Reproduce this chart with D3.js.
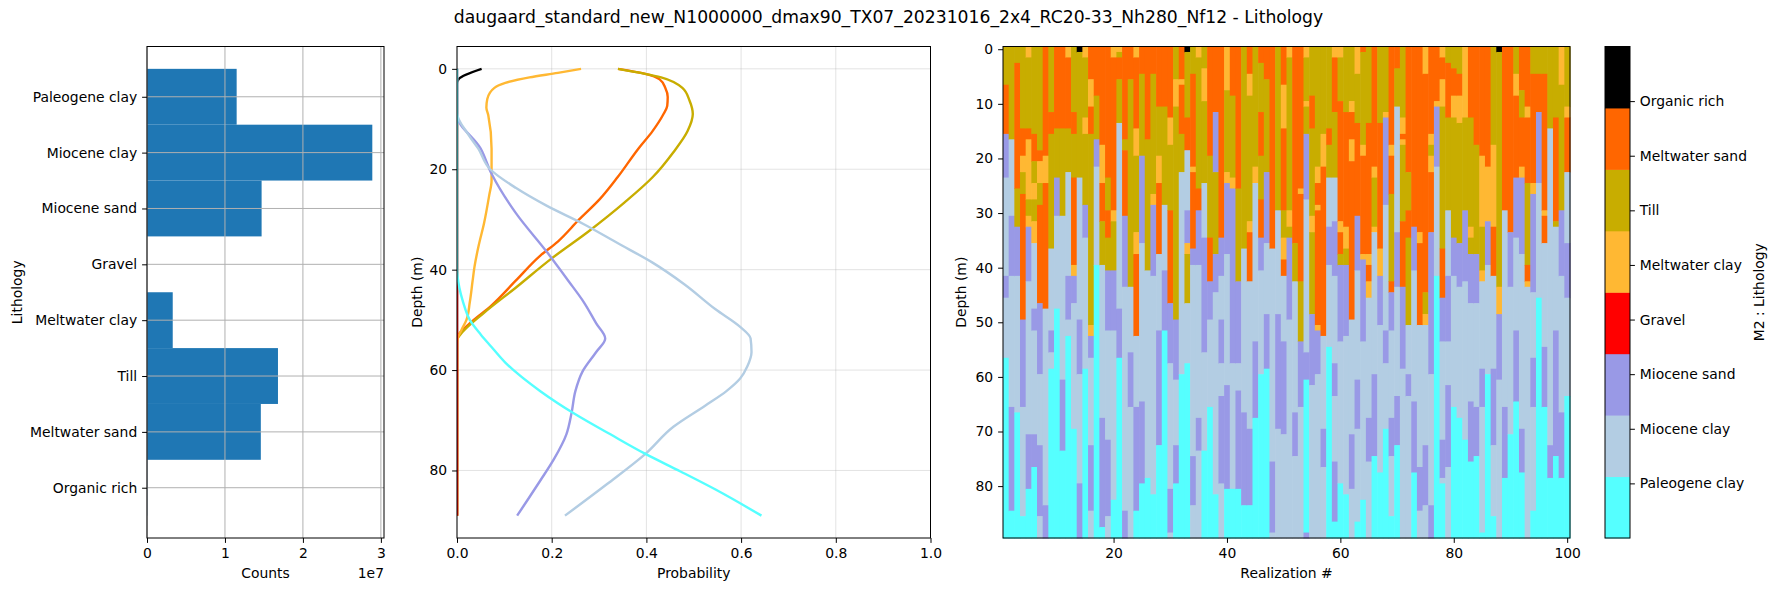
<!DOCTYPE html>
<html>
<head>
<meta charset="utf-8">
<title>Lithology</title>
<script src="https://cdn.jsdelivr.net/npm/d3@7/dist/d3.min.js"></script>
<style>
  body { margin: 0; background: #fff; }
  svg { display: block; font-family: "DejaVu Sans", sans-serif; }
</style>
</head>
<body>
<div id="chart"></div>
<script>
// lithology classes, bottom of the colorbar first
const lithologies = ['Paleogene clay', 'Miocene clay', 'Miocene sand', 'Gravel', 'Meltwater clay', 'Till', 'Meltwater sand', 'Organic rich'];
const lithoColors = ['#55ffff', '#b3cde3', '#9999e6', '#ff0000', '#ffb833', '#c8ad00', '#ff6600', '#000000'];
const lithoCodes = ['P', 'C', 'M', 'G', 'L', 'T', 'S', 'O'];

// histogram counts per class
const counts = [1.15e7, 2.89e7, 1.47e7, 0, 0.33e7, 1.68e7, 1.46e7, 3e4];
const countTicks = [0, 1e7, 2e7, 3e7];

// probability vs depth, [depth, probability]
const probPaleogeneClay = [[0, 0], [39.4, 0], [43.6, 0.005], [46.5, 0.013], [50, 0.027], [52.9, 0.05], [55.3, 0.072], [58.5, 0.102], [64.2, 0.176], [68.8, 0.25], [72.8, 0.324], [76.7, 0.398], [80.2, 0.472], [83.8, 0.546], [89, 0.643]];
const probMioceneClay = [[0, 0], [8.8, 0], [13.1, 0.024], [15.9, 0.045], [20, 0.07], [23.7, 0.124], [27.3, 0.19], [30.8, 0.265], [34.7, 0.339], [38.6, 0.413], [42.9, 0.48], [47.9, 0.546], [51.4, 0.598], [53.7, 0.62], [56.4, 0.622], [59.3, 0.613], [61.7, 0.598], [64.2, 0.569], [67.1, 0.524], [71.3, 0.457], [76.7, 0.398], [82.7, 0.317], [89, 0.228]];
const probMioceneSand = [[0, 0], [9.2, 0], [15.9, 0.05], [20.9, 0.073], [28.7, 0.124], [36.5, 0.19], [42.2, 0.235], [46.5, 0.268], [50.7, 0.294], [53.7, 0.313], [56.4, 0.294], [60.3, 0.265], [64.2, 0.25], [68.5, 0.242], [72.8, 0.231], [77.7, 0.205], [82, 0.176], [89, 0.127]];
const probGravel = [[0, 0], [89, 0]];
const probMeltwaterClay = [[0, 0.262], [0.8, 0.213], [1.7, 0.153], [2.8, 0.102], [3.8, 0.079], [6, 0.064], [7.7, 0.062], [9.2, 0.066], [15.9, 0.073], [22.3, 0.073], [25.2, 0.068], [30.8, 0.057], [35.1, 0.046], [39.4, 0.037], [42.2, 0.033], [46.5, 0.027], [50, 0.02], [52.1, 0.009], [53.7, 0.0015], [55, 0], [89, 0]];
const probTill = [[0, 0.34], [1.7, 0.431], [3.8, 0.476], [6.3, 0.491], [9, 0.498], [12.4, 0.487], [16.6, 0.457], [21.6, 0.413], [26.6, 0.354], [32.3, 0.279], [37.9, 0.198], [43.6, 0.124], [48.6, 0.057], [53.2, 0.005], [54, 0], [89, 0]];
const probMeltwaterSand = [[0, 0.34], [1, 0.398], [2.1, 0.428], [3.8, 0.44], [5.6, 0.445], [7.4, 0.444], [9.2, 0.435], [12.4, 0.413], [15.9, 0.383], [21.6, 0.339], [25.9, 0.302], [30.1, 0.257], [34.4, 0.213], [37.2, 0.176], [42.2, 0.124], [47.2, 0.072], [50.7, 0.027], [53.7, 0], [89, 0]];
const probOrganicRich = [[0, 0.052], [2, 0.004], [3, 0], [89, 0]];
const probSeries = [probPaleogeneClay, probMioceneClay, probMioceneSand, probGravel, probMeltwaterClay, probTill, probMeltwaterSand, probOrganicRich];
const probTicks = [0, 0.2, 0.4, 0.6, 0.8, 1.0];
const depthTicks = [0, 20, 40, 60, 80];

// 100 realizations, one string each: class code + depth where that class starts
const realizations = [
  'T0 S7 M16 C24 M42 C46 P57', 'T0 C17 M31 C42 M66 P85', 'T0 S3 T26 M33 C42 P67', 'T0 S15 L20 T23 S27 M50 C66 P86',
  'L0 T2 S15 L17 T28 L31 M33 C43 M71 P81', 'T0 S16 T21 L25 T28 L32 C36 M48 C52 M71 P77', 'T0 S19 L21 T25 S29 M47 C60 M73 C86', 'S0 L20 S25 C48 M84',
  'T0 S12 T16 C37 M52 C56 P59', 'S0 T15 M24 C31 P48', 'S0 T15 C31 M61 P74', 'L0 S2 T15 C23 M42 C50 P53',
  'T0 S12 T16 S24 L40 M42 C47 P70', 'O0 T1 C24 M50 C60 M80', 'L0 T2 L13 T16 M29 C35 P59', 'S0 L6 S11 T16 L51 M53 C57 M73 C85',
  'S0 T9 M17 C22 P40', 'S0 L18 S25 T32 C40 M68 P88', 'S0 T24 S30 T35 M41 C52 M72 C86', 'L0 S2 L30 T32 M41 C52 P83',
  'L0 T1 S2 T6 C14 M48 P57', 'S0 T17 S19 M31 C44 M85', 'S0 T6 C44 M56 C66', 'L0 S2 L15 T20 L34 S38 C53 M66 P85',
  'S0 T5 M20 C36 M65 P80', 'S0 T17 C41 P79', 'S0 T5 L27 M29 C42 P82', 'S0 T11 L20 S25 C38 M52 P73',
  'S0 T11 C29 M41 P52', 'S0 L13 T18 S30 M47 C58 M81 C89', 'T0 L6 T11 M50 C61 M73 P80', 'S0 L6 S7 T16 C23 P60',
  'O0 T1 S13 C19 M30 L36 T38 C47 P58', 'T0 S5 L22 S23 M37 C40 M75 C84', 'L0 T2 S26 M30 C40 M68 C74', 'T0 L4 T10 C25 M35 C56 P74',
  'S0 T20 S35 M43 C50 P66', 'S0 M12 T23 M38 C45 P82', 'S0 M35 C42 M50 C58 M64 C80', 'L0 T8 L23 M25 C38 M62 P81',
  'S0 T9 L24 M26 C58 P81', 'S0 T26 M43 C58 M63 P81', 'T0 C37 M67 P84', 'S0 L5 T9 L32 S34 C43 M70 P84',
  'T0 L22 C25 M54 P68', 'S0 T3 S12 T20 S28 M35 C41 P60', 'S0 T6 M23 C36 M49 P59', 'S0 C37 M76 C89',
  'T0 C30 M49 C70', 'S0 L7 S15 T30 L35 S39 C42 M54 C71', 'L0 T2 L30 T33 M35 C50', 'S0 T36 C43 M67 C75',
  'S0 L26 S27 T43 M54 C66', 'L0 T2 L10 T11 M16 C28 M56 P61 M89', 'T0 S9 T15 L31 T34 M49 C62', 'T0 L22 S25 L29 S30 L51 M52 C60',
  'T0 L16 S22 C53 M70 C77', 'T0 S15 T18 C24 M33 C40 P55', 'L0 S2 T12 C24 M32 C42 M58 C64 M76 P87', 'L0 T2 S10 L32 S34 T38 M40 C54 P80',
  'T0 S12 L33 T37 M40 C53 P82', 'T0 L10 S12 L17 S21 C50 M71 C81', 'L0 T5 S14 M31 C41 M61 C70 P87', 'S0 T1 L18 S20 L38 M39 C54 P83',
  'T0 S14 L38 S40 L43 C46 M68 C76', 'S0 L22 T24 L33 C34 M60 P75', 'T0 S14 L37 M42 C51 P78', 'T0 L12 M13 C29 M52 C58 P70',
  'S0 L18 S20 T27 S43 M45 C52 M68 C75 P86', 'S0 T4 C11 M34 C44 M64 P73', 'T0 L13 S16 L17 T18 S32 M44 C59', 'S0 T23 S30 T35 C51 M60 C64',
  'S0 M33 C41 M65 P78', 'S0 L34 S36 C51 M77 C85', 'L0 S5 T45 L49 C51 M73 C84', 'S0 L16 T18 L20 S23 M34 C60 M84',
  'S0 L10 M11 C22 P42', 'L0 S2 L6 T11 S37 M46 C54 M72 C79 P80', 'T0 S3 T13 C30 M42 C54 M62 C77', 'T0 S4 L9 T13 M35 C42 P66',
  'T0 S5 L9 T14 M36 C44 P68', 'L0 T13 M30 C43 P72', 'S0 T13 L33 T35 M38 C47 M65 P76', 'S0 T18 M38 C47 M66 P75',
  'S0 L20 T33 L41 C43 M59 C66 P89', 'S0 L22 M32 C40 P60', 'T0 L18 S33 C42 M59 C73 P86', 'O0 T1 L44 M49 C61',
  'S0 C30 M66 P79', 'S0 M34 C44 P71', 'T0 L5 S9 M24 C35 M52 P65', 'S0 T8 S13 L22 M24 C38 M70 P78',
  'S0 L11 S13 T25 S40 L43 C44', 'T0 S5 L25 M27 C45 M57 C66 P85', 'T0 S5 M12 C25 P46', 'T0 S5 L30 S31 C36 M55 P66',
  'T0 C15 M73 P79', 'T0 S13 T32 C33 M52 P75', 'L0 T7 M30 C42 M67 P79', 'T0 L11 S13 C23 M36 C46 P64'
];
const nDepth = 90;
const realizationTicks = [20, 40, 60, 80, 100];
const imageDepthTicks = [0, 10, 20, 30, 40, 50, 60, 70, 80];

const W = 1777, H = 593;
const plotTop = 46.5, plotBottom = 538;
const fs = 13.9;

const svg = d3.select('#chart').append('svg').attr('width', W).attr('height', H);

function styleAxis(g) {
  g.attr('font-family', null).attr('font-size', null);
  g.select('.domain').remove();
  g.selectAll('.tick text').attr('font-size', fs).attr('fill', '#000');
  g.selectAll('.tick line').attr('stroke', '#000').attr('stroke-width', 1);
}
function frame(l, r) {
  svg.append('rect').attr('x', l).attr('y', plotTop).attr('width', r - l).attr('height', plotBottom - plotTop)
    .attr('fill', 'none').attr('stroke', '#000').attr('stroke-width', 1);
}
function label(text, x, y, rotate, anchor) {
  const t = svg.append('text').attr('font-size', fs).attr('text-anchor', anchor || 'middle').text(text);
  if (rotate) t.attr('transform', `translate(${x},${y}) rotate(-90)`);
  else t.attr('x', x).attr('y', y);
  return t;
}

svg.append('text').attr('x', W / 2).attr('y', 23).attr('text-anchor', 'middle').attr('font-size', 17.2)
  .text('daugaard_standard_new_N1000000_dmax90_TX07_20231016_2x4_RC20-33_Nh280_Nf12 - Lithology');

// ---- panel 1: histogram
const p1 = { l: 147, r: 384 };
const x1 = d3.scaleLinear().domain([0, 3.04e7]).range([p1.l, p1.r]);
const y1 = d3.scaleLinear().domain([0.1, 8.9]).range([plotTop, plotBottom]);
svg.append('g').selectAll('rect').data(counts).join('rect')
  .attr('x', x1(0)).attr('y', (d, i) => y1(i + 0.5))
  .attr('width', d => x1(d) - x1(0)).attr('height', (d, i) => y1(i + 1.5) - y1(i + 0.5))
  .attr('fill', '#1f77b4');
const grid1 = svg.append('g').attr('stroke', '#b0b0b0').attr('stroke-width', 1);
countTicks.forEach(v => grid1.append('line').attr('x1', x1(v)).attr('x2', x1(v)).attr('y1', plotTop).attr('y2', plotBottom));
lithologies.forEach((n, i) => grid1.append('line').attr('x1', p1.l).attr('x2', p1.r).attr('y1', y1(i + 1)).attr('y2', y1(i + 1)));
svg.append('g').attr('transform', `translate(0,${plotBottom})`)
  .call(d3.axisBottom(x1).tickValues(countTicks).tickFormat(d => d / 1e7).tickSize(4.9).tickSizeOuter(0).tickPadding(4.9))
  .call(styleAxis);
svg.append('g').attr('transform', `translate(${p1.l},0)`)
  .call(d3.axisLeft(y1).tickValues(d3.range(1, 9)).tickFormat(d => lithologies[d - 1]).tickSize(4.9).tickSizeOuter(0).tickPadding(4.9))
  .call(styleAxis);
frame(p1.l, p1.r);
label('Counts', (p1.l + p1.r) / 2, 578);
label('1e7', p1.r, 578, false, 'end');
label('Lithology', 17, (plotTop + plotBottom) / 2, true).attr('dy', '0.35em');

// ---- panel 2: probability vs depth
const p2 = { l: 457, r: 930.5 };
const x2 = d3.scaleLinear().domain([0, 1]).range([p2.l, p2.r]);
const y2 = d3.scaleLinear().domain([-4.45, 93.45]).range([plotTop, plotBottom]);
svg.append('clipPath').attr('id', 'clip2').append('rect')
  .attr('x', p2.l).attr('y', plotTop).attr('width', p2.r - p2.l).attr('height', plotBottom - plotTop);
const grid2 = svg.append('g').attr('stroke', '#b0b0b0').attr('stroke-opacity', 0.35).attr('stroke-width', 1);
probTicks.forEach(v => grid2.append('line').attr('x1', x2(v)).attr('x2', x2(v)).attr('y1', plotTop).attr('y2', plotBottom));
depthTicks.forEach(v => grid2.append('line').attr('x1', p2.l).attr('x2', p2.r).attr('y1', y2(v)).attr('y2', y2(v)));
const line = d3.line().x(d => x2(d[1])).y(d => y2(d[0])).curve(d3.curveMonotoneY);
const lines2 = svg.append('g').attr('clip-path', 'url(#clip2)');
d3.range(lithologies.length - 1, -1, -1).forEach(i => {
  lines2.append('path').attr('d', line(probSeries[i])).attr('fill', 'none')
    .attr('stroke', lithoColors[i]).attr('stroke-width', 2.4);
});
svg.append('g').attr('transform', `translate(0,${plotBottom})`)
  .call(d3.axisBottom(x2).tickValues(probTicks).tickFormat(d3.format('.1f')).tickSize(4.9).tickSizeOuter(0).tickPadding(4.9))
  .call(styleAxis);
svg.append('g').attr('transform', `translate(${p2.l},0)`)
  .call(d3.axisLeft(y2).tickValues(depthTicks).tickSize(4.9).tickSizeOuter(0).tickPadding(4.9))
  .call(styleAxis);
frame(p2.l, p2.r);
label('Probability', (p2.l + p2.r) / 2, 578);
label('Depth (m)', 417, (plotTop + plotBottom) / 2, true).attr('dy', '0.35em');

// ---- panel 3: realizations image
const p3 = { l: 1003, r: 1570 };
const x3 = d3.scaleLinear().domain([0.5, realizations.length + 0.5]).range([p3.l, p3.r]);
const y3 = d3.scaleLinear().domain([-0.5, nDepth - 0.5]).range([plotTop, plotBottom]);
const cells = [];
realizations.forEach((s, k) => {
  const toks = s.split(' ');
  toks.forEach((t, j) => {
    const start = +t.slice(1);
    const end = j + 1 < toks.length ? +toks[j + 1].slice(1) : nDepth;
    cells.push({ col: k + 1, cls: lithoCodes.indexOf(t[0]), start, end });
  });
});
svg.append('g').selectAll('rect').data(cells).join('rect')
  .attr('x', d => x3(d.col - 0.5)).attr('width', d => x3(d.col + 0.5) - x3(d.col - 0.5) + 0.6)
  .attr('y', d => y3(d.start - 0.5)).attr('height', d => y3(d.end - 0.5) - y3(d.start - 0.5) + 0.6)
  .attr('fill', d => lithoColors[d.cls]);
svg.append('g').attr('transform', `translate(0,${plotBottom})`)
  .call(d3.axisBottom(x3).tickValues(realizationTicks).tickSize(4.9).tickSizeOuter(0).tickPadding(4.9))
  .call(styleAxis);
svg.append('g').attr('transform', `translate(${p3.l},0)`)
  .call(d3.axisLeft(y3).tickValues(imageDepthTicks).tickSize(4.9).tickSizeOuter(0).tickPadding(4.9))
  .call(styleAxis);
frame(p3.l, p3.r);
label('Realization #', (p3.l + p3.r) / 2, 578);
label('Depth (m)', 961, (plotTop + plotBottom) / 2, true).attr('dy', '0.35em');

// ---- colorbar
const cb = { l: 1605, r: 1630 };
const yc = d3.scaleLinear().domain([0, 9]).range([plotBottom, plotTop]);
const band = 9 / lithologies.length;
svg.append('g').selectAll('rect').data(lithoColors).join('rect')
  .attr('x', cb.l).attr('width', cb.r - cb.l)
  .attr('y', (d, i) => yc((i + 1) * band)).attr('height', (d, i) => yc(i * band) - yc((i + 1) * band) + 0.5)
  .attr('fill', d => d);
svg.append('g').attr('transform', `translate(${cb.r},0)`)
  .call(d3.axisRight(yc).tickValues(d3.range(1, 9)).tickFormat(d => lithologies[d - 1]).tickSize(4.9).tickSizeOuter(0).tickPadding(4.9))
  .call(styleAxis);
frame(cb.l, cb.r);
label('M2 : Lithology', 1759, (plotTop + plotBottom) / 2, true).attr('dy', '0.35em');
</script>
</body>
</html>
